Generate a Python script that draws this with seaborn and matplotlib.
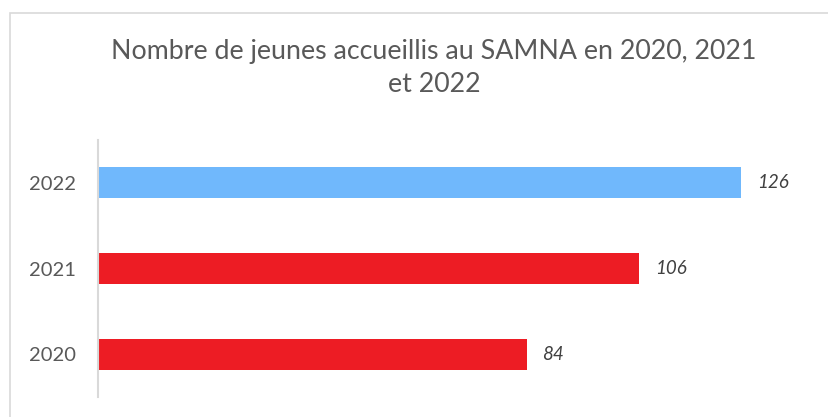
import matplotlib
matplotlib.use("Agg")
import matplotlib.pyplot as plt
import matplotlib.patches as mpatches
import pandas as pd
import seaborn as sns

years = ["2022", "2021", "2020"]
counts = [126, 106, 84]
colors = ["#70B8FC", "#ED1C24", "#ED1C24"]
title = "Nombre de jeunes accueillis au SAMNA en 2020, 2021\net 2022"

df = pd.DataFrame({"annee": years, "jeunes": counts})

sns.set_theme(style="white")
plt.rcParams["font.family"] = ["Lato", "DejaVu Sans"]

W, H = 829, 417
fig = plt.figure(figsize=(W / 100, H / 100), dpi=100)

# outer chart frame (cut by the image on the right and bottom)
fig.patches.append(mpatches.Rectangle((10 / W, -0.1), 1.1, (H - 13) / H + 0.1,
                                      transform=fig.transFigure, fill=False,
                                      edgecolor="#D9D9D9", linewidth=1.2))

ax = fig.add_axes([98 / W, 20 / H, (813 - 98) / W, (397 - 140) / H])
sns.barplot(data=df, x="jeunes", y="annee", hue="annee", palette=colors,
            order=years, orient="h", width=0.36, legend=False, ax=ax,
            edgecolor="none", saturation=1)

ax.set_xlim(0, 140)
ax.set_ylim(2.5, -0.5)
ax.set_xlabel("")
ax.set_ylabel("")
ax.set_xticks([])
for side in ["top", "right", "bottom"]:
    ax.spines[side].set_visible(False)
ax.spines["left"].set_color("#D9D9D9")
ax.spines["left"].set_linewidth(1.5)
ax.tick_params(axis="y", length=0, pad=16, labelsize=14.5, labelcolor="#595959")

for cont in ax.containers:
    ax.bar_label(cont, padding=11, fontsize=13.5, fontstyle="italic",
                 color="#404040")

fig.text(434 / W, 1 - 68 / H, title, ha="center", va="center", fontsize=19.3,
         color="#595959", linespacing=1.4)

fig.savefig("out.png", dpi=100)
